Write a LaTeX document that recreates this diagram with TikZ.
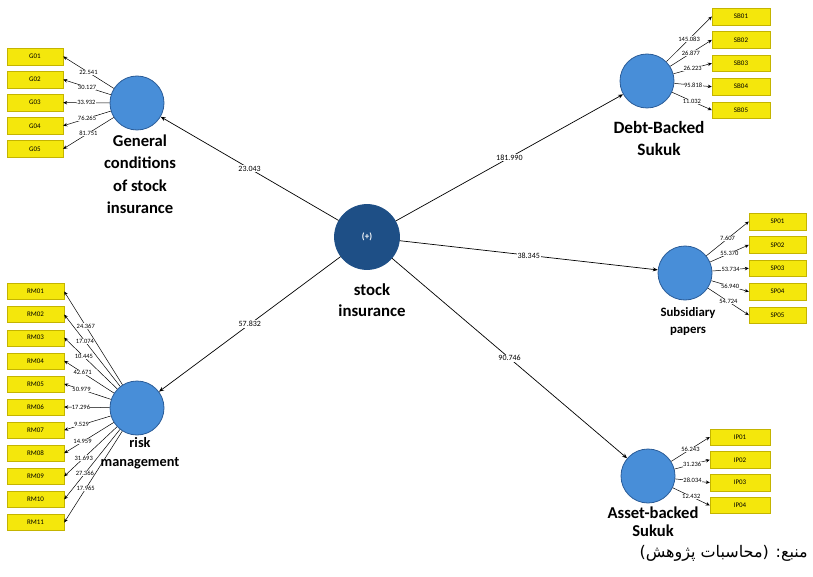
\documentclass[tikz,border=0pt]{standalone}
\usepackage{fontspec}
\setmainfont{Carlito}
\newfontfamily\persianfont[Script=Arabic]{DejaVu Sans}
\TeXXeTstate=1
\usetikzlibrary{arrows.meta}

\definecolor{itemyellow}{RGB}{244,231,12}
\definecolor{itemedge}{RGB}{196,180,0}
\definecolor{lvblue}{RGB}{72,142,216}
\definecolor{lvedge}{RGB}{42,92,152}
\definecolor{corenavy}{RGB}{30,79,134}

\begin{document}
\begin{tikzpicture}[x=1pt,y=-1pt,
  item/.style={draw=itemedge,fill=itemyellow,minimum width=57pt,minimum height=16.5pt,inner sep=0pt,font=\fontsize{7}{8}\selectfont},
  lv/.style={circle,draw=lvedge,line width=0.8pt,fill=lvblue,minimum size=54pt,inner sep=0pt},
  lvname/.style 2 args={align=center,inner sep=0pt,font=\bfseries\fontsize{#1}{#2}\selectfont},
  path/.style={-{Stealth[length=5pt,width=4pt]},line width=0.7pt},
  load/.style={-{Stealth[length=4pt,width=3.5pt]},line width=0.5pt},
  coef/.style={fill=white,inner sep=1pt,font=\fontsize{8}{9}\selectfont},
  wt/.style={fill=white,inner sep=0.4pt,font=\fontsize{6.5}{7}\selectfont}]

\useasboundingbox (0,0) rectangle (813,577);

% latent variables
\node[lv,fill=corenavy,draw=corenavy,minimum size=65pt,text=white,font=\bfseries\fontsize{9}{10}\selectfont] (si) at (367,237) {(+)};
\node[lv] (gc) at (137,103) {};
\node[lv] (rm) at (137,408) {};
\node[lv] (db) at (647,81) {};
\node[lv] (sp) at (685,273) {};
\node[lv] (ab) at (648,476) {};

\node[lvname={16.8}{21}] (sil) at (372,300) {stock\\insurance};
\node[lvname={16.6}{22.5}] (gcl) at (140,174) {General\\conditions\\of stock\\insurance};
\node[lvname={14.3}{18.5}] (rml) at (140,453) {risk\\management};
\node[lvname={17.3}{22}] (dbl) at (659,138) {Debt-Backed\\Sukuk};
\node[lvname={12.8}{17}] (spl) at (688,322) {Subsidiary\\papers};
\node[lvname={16.6}{18}] (abl) at (653,522) {Asset-backed\\Sukuk};

% structural paths
\draw[path] (si) -- node[coef] {23.043} (gc);
\draw[path] (si) -- node[coef] {57.832} (rm);
\draw[path] (si) -- node[coef] {181.990} (db);
\draw[path] (si) -- node[coef] {38.345} (sp);
\draw[path] (si) -- node[coef] {90.746} (ab);

% indicators
\foreach \w [count=\i] in {22.541,30.127,33.932,76.265,81.751}
{
\node[item,minimum width=56pt] (G0\i) at (35,{56.5+23.1*(\i-1)}) {G0\i};
\draw[load] (gc) -- node[wt] {\w} (G0\i.east);
}

\foreach \n/\w [count=\i] in {01/24.367,02/17.074,03/10.445,04/42.671,05/50.979,06/17.296,07/9.529,08/14.959,09/31.693,10/27.366,11/17.965}
{
\node[item,minimum height=16pt] (RM\n) at (35.5,{291.5+23.1*(\i-1)}) {RM\n};
\draw[load] (rm) -- node[wt,pos=0.63] {\w} (RM\n.east);
}

\foreach \w [count=\i] in {145.083,26.877,26.223,95.818,11.032}
{
\node[item,minimum width=58pt] (SB0\i) at (741,{16.5+23.4*(\i-1)}) {SB0\i};
\draw[load] (db) -- node[wt] {\w} (SB0\i.west);
}

\foreach \w [count=\i] in {7.607,55.370,53.734,56.940,54.724}
{
\node[item] (SP0\i) at (777.5,{221.5+23.4*(\i-1)}) {SP0\i};
\draw[load] (sp) -- node[wt] {\w} (SP0\i.west);
}

\foreach \w [count=\i] in {56.243,31.236,28.034,12.432}
{
\node[item,minimum width=60pt] (IP0\i) at (740,{437+22.8*(\i-1)}) {IP0\i};
\draw[load] (ab) -- node[wt] {\w} (IP0\i.west);
}

\node[anchor=east,inner sep=0pt,font=\persianfont\fontsize{16}{19}\selectfont] (src) at (808,553) {\beginR منبع: (محاسبات پژوهش)\endR};

\end{tikzpicture}
\end{document}
